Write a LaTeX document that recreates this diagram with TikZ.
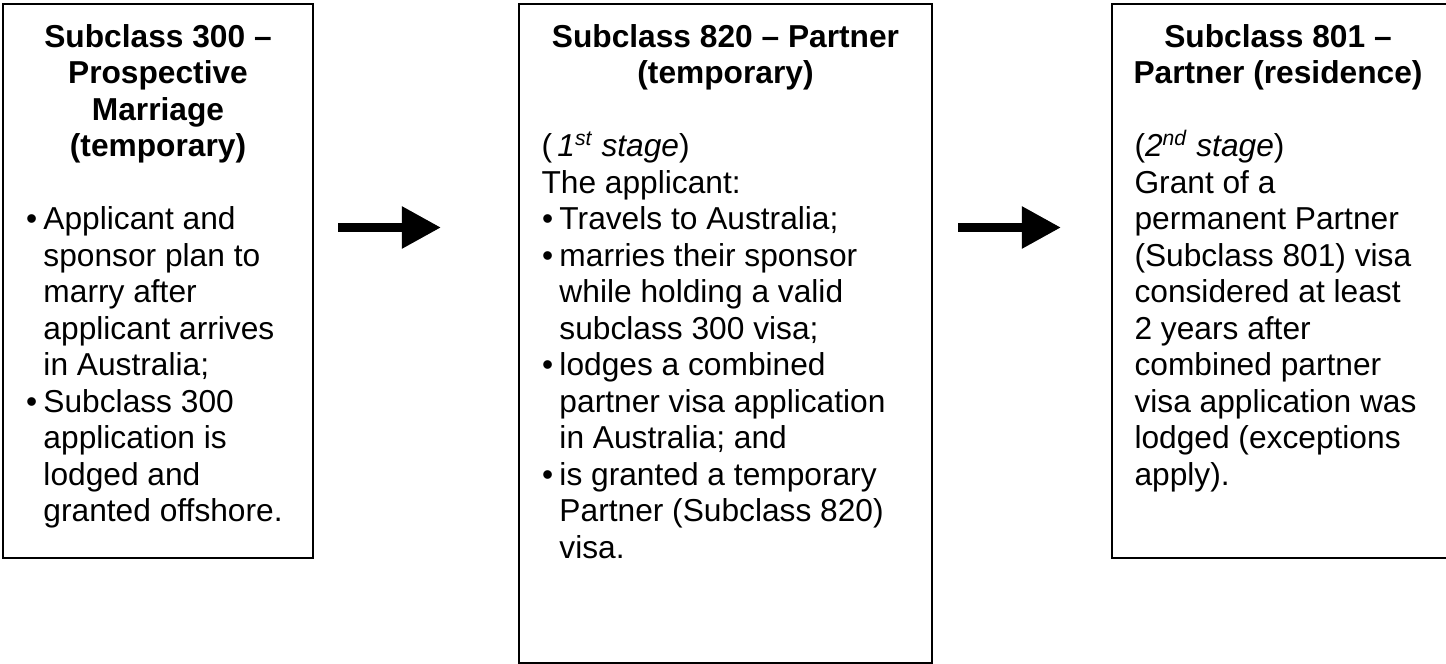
\documentclass[tikz,border=0pt]{standalone}
\usepackage{fontspec}
\setmainfont{Liberation Sans}
\usetikzlibrary{calc,arrows.meta}

% bullet and hanging indent for the list lines
\newcommand{\vbul}{\makebox[6.8pt][l]{\hspace{0.2pt}\textbullet}}
\newcommand{\vind}{\hspace*{6.8pt}}

\begin{document}
\begin{tikzpicture}[x=0.3785pt,y=-0.3785pt,
    visabox/.style={draw,line width=0.8pt,inner sep=0pt,outer sep=0pt},
    heading/.style={font=\fontsize{12}{13.8}\selectfont\bfseries,align=center,anchor=base,inner sep=0pt},
    body/.style={font=\fontsize{12}{13.8}\selectfont,align=left,anchor=base west,inner sep=0pt},
    flow/.style={line width=3.4pt,-{Triangle[length=14.8pt,width=15.1pt]}}]
    \useasboundingbox (0,0) rectangle (1446,664);

    % Boxes
    \node[visabox,minimum width=117.3pt,minimum height=209.7pt] (box300) at (158,281) {};
    \node[visabox,minimum width=156.3pt,minimum height=249.4pt] (box820) at (725.5,333.5) {};
    \node[visabox,minimum width=126.8pt,minimum height=209.7pt] (box801) at (1279.5,281) {};

    % Subclass 300 (nodes sit on the baseline of their last line)
    \node[heading] (head300) at (158,156.5) {Subclass 300 --\\Prospective\\Marriage\\(temporary)};
    \node[body] (text300) at (25,521.5) {\vbul Applicant and\\
        \vind sponsor plan to\\
        \vind marry after\\
        \vind applicant arrives\\
        \vind in Australia;\\
        \vbul Subclass 300\\
        \vind application is\\
        \vind lodged and\\
        \vind granted offshore.};

    % Subclass 820
    \node[heading] (head820) at (725.5,83.5) {Subclass 820 -- Partner\\(temporary)};
    \node[body] (text820) at (541,558) {(\,\textit{1\textsuperscript{st} stage})\\
        The applicant:\\
        \vbul Travels to Australia;\\
        \vbul marries their sponsor\\
        \vind while holding a valid\\
        \vind subclass 300 visa;\\
        \vbul lodges a combined\\
        \vind partner visa application\\
        \vind in Australia; and\\
        \vbul is granted a temporary\\
        \vind Partner (Subclass 820)\\
        \vind visa.};

    % Subclass 801
    \node[heading] (head801) at (1278,83.5) {Subclass 801 --\\Partner (residence)};
    \node[body] (text801) at (1134,485) {(\textit{2\textsuperscript{nd} stage})\\
        Grant of a\\
        permanent Partner\\
        (Subclass 801) visa\\
        considered at least\\
        2 years after\\
        combined partner\\
        visa application was\\
        lodged (exceptions\\
        apply).};

    % Arrows between the stages
    \coordinate (go1) at (338,227.5);
    \coordinate (to1) at (441,227.5);
    \coordinate (go2) at (958,227.5);
    \coordinate (to2) at (1061,227.5);
    \draw[flow] (go1) -- (to1);
    \draw[flow] (go2) -- (to2);
\end{tikzpicture}
\end{document}
